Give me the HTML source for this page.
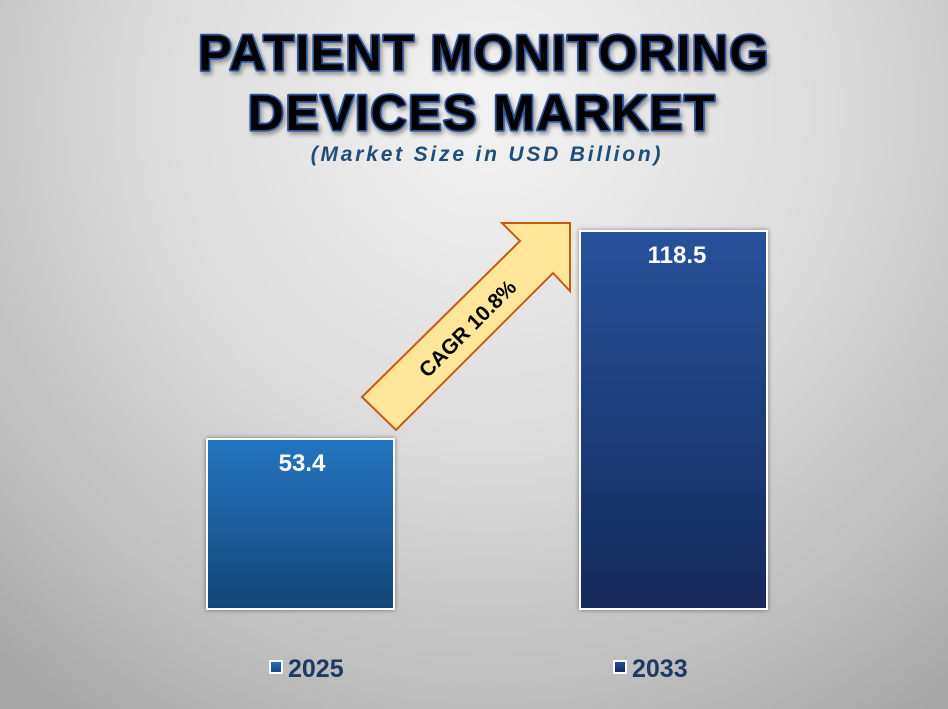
<!DOCTYPE html>
<html>
<head>
<meta charset="utf-8">
<style>
html,body{margin:0;padding:0;}
body{width:948px;height:709px;overflow:hidden;}
svg{display:block;}
</style>
</head>
<body>
<svg width="948" height="709" viewBox="0 0 948 709" xmlns="http://www.w3.org/2000/svg">
  <defs>
    <radialGradient id="bg" gradientUnits="userSpaceOnUse" cx="490" cy="110" r="740">
      <stop offset="0" stop-color="#f3f3f3"/>
      <stop offset="0.45" stop-color="#dcdcdc"/>
      <stop offset="0.8" stop-color="#bdbdbd"/>
      <stop offset="1" stop-color="#a7a7a7"/>
    </radialGradient>
    <linearGradient id="b1" x1="0" y1="0" x2="0" y2="1">
      <stop offset="0" stop-color="#2475c0"/>
      <stop offset="1" stop-color="#134677"/>
    </linearGradient>
    <linearGradient id="b2" x1="0" y1="0" x2="0" y2="1">
      <stop offset="0" stop-color="#27529b"/>
      <stop offset="1" stop-color="#13295a"/>
    </linearGradient>
    <filter id="sh" x="-10%" y="-10%" width="120%" height="120%">
      <feDropShadow dx="0" dy="0" stdDeviation="2.5" flood-color="#000" flood-opacity="0.45"/>
    </filter>
    <filter id="tsh" x="-5%" y="-20%" width="110%" height="140%">
      <feDropShadow dx="2" dy="3" stdDeviation="2" flood-color="#000" flood-opacity="0.35"/>
    </filter>
  </defs>
  <rect x="0" y="0" width="948" height="709" fill="url(#bg)"/>

  <!-- Title -->
  <g filter="url(#tsh)" font-family="'Liberation Sans', Arial, sans-serif" font-weight="bold" font-size="50" text-anchor="middle" letter-spacing="1.5">
    <text x="484" y="70" fill="#000" stroke="#2f5597" stroke-width="3.5" paint-order="stroke" stroke-linejoin="round">PATIENT MONITORING</text>
    <text x="482" y="130" fill="#000" stroke="#2f5597" stroke-width="3.5" paint-order="stroke" stroke-linejoin="round">DEVICES MARKET</text>
  </g>
  <text x="487" y="161" font-family="'Liberation Sans', Arial, sans-serif" font-weight="bold" font-style="italic" font-size="21" letter-spacing="2.8" fill="#1f4e79" text-anchor="middle">(Market Size in USD Billion)</text>

  <!-- Bars -->
  <rect x="207" y="439" width="187" height="170" fill="url(#b1)" stroke="#ffffff" stroke-width="2" filter="url(#sh)"/>
  <rect x="580" y="231" width="187" height="378" fill="url(#b2)" stroke="#ffffff" stroke-width="2" filter="url(#sh)"/>

  <text x="302" y="471" font-family="'Liberation Sans', Arial, sans-serif" font-weight="bold" font-size="24" fill="#ffffff" text-anchor="middle">53.4</text>
  <text x="677" y="263" font-family="'Liberation Sans', Arial, sans-serif" font-weight="bold" font-size="24" fill="#ffffff" text-anchor="middle">118.5</text>

  <!-- Arrow -->
  <polygon points="362,397 520,241 502,223 570,223 570,291 553,273 396,430" fill="#ffe699" stroke="#c55a11" stroke-width="2" stroke-linejoin="miter"/>
  <text x="0" y="0" transform="translate(468,329) rotate(-45)" font-family="'Liberation Sans', Arial, sans-serif" font-weight="bold" font-size="21" fill="#000" text-anchor="middle" dominant-baseline="central">CAGR 10.8%</text>

  <!-- Legend -->
  <rect x="270" y="661" width="12" height="12" fill="url(#b1)" stroke="#ffffff" stroke-width="2"/>
  <text x="288" y="677" font-family="'Liberation Sans', Arial, sans-serif" font-weight="bold" font-size="25" fill="#1f3864">2025</text>
  <rect x="614" y="661" width="12" height="12" fill="url(#b2)" stroke="#ffffff" stroke-width="2"/>
  <text x="632" y="677" font-family="'Liberation Sans', Arial, sans-serif" font-weight="bold" font-size="25" fill="#1f3864">2033</text>
</svg>
</body>
</html>
